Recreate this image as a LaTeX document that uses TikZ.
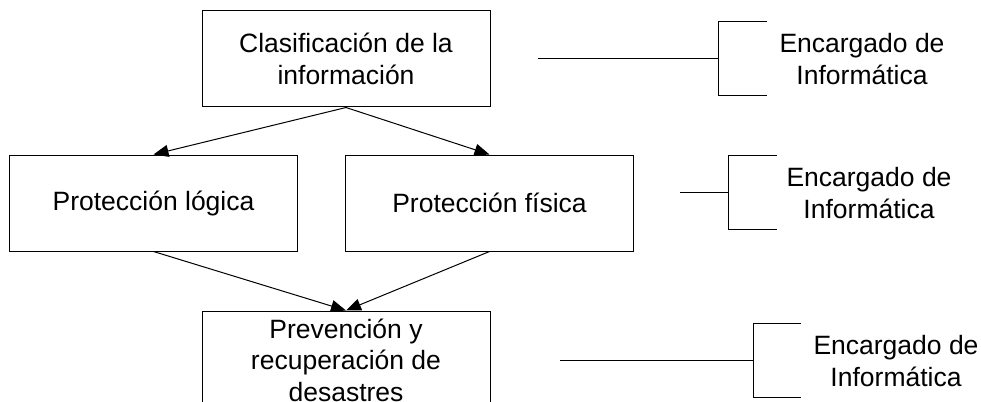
\documentclass[tikz,border=0pt]{standalone}
\usepackage{fontspec}
\setmainfont{Liberation Sans}
\usetikzlibrary{arrows.meta}

\begin{document}
\begin{tikzpicture}[x=1pt, y=-1pt, line width=1pt,
  >={Triangle[length=15pt,width=12pt]},
  box/.style = {draw, minimum width=288pt, minimum height=96pt, inner sep=0pt,
    align=center, font=\fontsize{26.5}{31.5}\selectfont},
  tag/.style = {align=center, font=\fontsize{26.5}{31.5}\selectfont}]
  \useasboundingbox (0,0) rectangle (981,401);

  \node[box] (clasif) at (346,59) {Clasificación de la\\información};
  \node[box] (logica) at (153.5,203) {Protección lógica};
  \node[box] (fisica) at (489.5,203) {Protección física};
  \node[box, minimum height=98pt] (prev) at (346,360)
    {Prevención y\\recuperación de\\desastres};

  \draw[->] (clasif.south) -- (logica.north);
  \draw[->] (clasif.south) -- (fisica.north);
  \draw[->] (logica.south) -- (prev.north);
  \draw[->] (fisica.south) -- (prev.north);

  % responsables
  \node[tag] (enc1) at (862,59) {Encargado de\\Informática};
  \coordinate (l1) at (538,59);
  \coordinate (b1) at (718,59);
  \draw (l1) -- (b1);
  \draw (767,22) -- (718,22) -- (718,96) -- (767,96);

  \node[tag] (enc2) at (869,193) {Encargado de\\Informática};
  \coordinate (l2) at (680,192);
  \coordinate (b2) at (728,192);
  \draw (l2) -- (b2);
  \draw (777,155) -- (728,155) -- (728,229) -- (777,229);

  \node[tag] (enc3) at (896,361) {Encargado de\\Informática};
  \coordinate (l3) at (560,360);
  \coordinate (b3) at (753,360);
  \draw (l3) -- (b3);
  \draw (801,323) -- (753,323) -- (753,397) -- (801,397);
\end{tikzpicture}
\end{document}
